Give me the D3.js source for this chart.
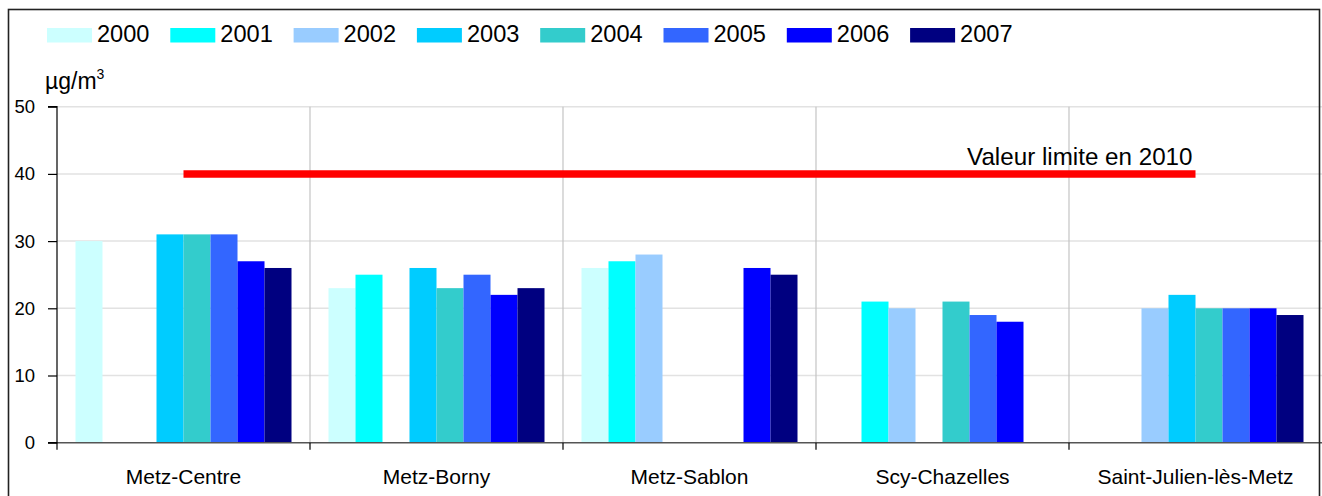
<!DOCTYPE html>
<html>
<head>
<meta charset="utf-8">
<script src="https://cdn.jsdelivr.net/npm/d3@7"></script>
<style>
  html, body { margin: 0; padding: 0; background: #fff; }
  svg { display: block; font-family: "Liberation Sans", Arial, sans-serif; }
</style>
</head>
<body>
<svg id="chart" width="1322" height="496"></svg>
<script>
// NO2 annual means per station (µg/m³), one array per year
const categories = ["Metz-Centre", "Metz-Borny", "Metz-Sablon", "Scy-Chazelles", "Saint-Julien-lès-Metz"];
const years = ["2000", "2001", "2002", "2003", "2004", "2005", "2006", "2007"];
const values2000 = [30, 23, 26, null, null];
const values2001 = [null, 25, 27, 21, null];
const values2002 = [null, null, 28, 20, 20];
const values2003 = [31, 26, null, null, 22];
const values2004 = [31, 23, null, 21, 20];
const values2005 = [31, 25, null, 19, 20];
const values2006 = [27, 22, 26, 18, 20];
const values2007 = [26, 23, 25, null, 19];
const limitValues = [40, 40, 40, 40, 40];
const yTicks = [0, 10, 20, 30, 40, 50];
const yearColors = ["#CCFFFF", "#00FFFF", "#99CCFF", "#00CCFF", "#33CCCC", "#3366FF", "#0000FF", "#000080"];

const series = [values2000, values2001, values2002, values2003, values2004, values2005, values2006, values2007];

const svg = d3.select("#chart");
const plot = { left: 57, right: 1322, top: 106.7, bottom: 442.7 };

const x0 = d3.scaleBand().domain(categories).range([plot.left, plot.right]).paddingInner(0).paddingOuter(0);
const x1 = d3.scaleBand().domain(years).range([0, x0.bandwidth()]).paddingInner(0).paddingOuter(0.685);
const y = d3.scaleLinear().domain([0, 50]).range([plot.bottom, plot.top]);
const color = d3.scaleOrdinal().domain(years).range(yearColors);

// background
svg.append("rect").attr("width", 1322).attr("height", 496).attr("fill", "#fff");

// horizontal gridlines
svg.append("g").selectAll("line").data(yTicks.filter(d => d > 0)).join("line")
  .attr("x1", plot.left).attr("x2", plot.right)
  .attr("y1", d => y(d)).attr("y2", d => y(d))
  .attr("stroke", "#e2e2e2").attr("stroke-width", 1.5);

// vertical category separators
svg.append("g").selectAll("line").data(categories.slice(1)).join("line")
  .attr("x1", d => x0(d)).attr("x2", d => x0(d))
  .attr("y1", plot.top).attr("y2", plot.bottom)
  .attr("stroke", "#c4c4c4").attr("stroke-width", 1.2);

// bars
const rows = [];
series.forEach((vals, si) => {
  vals.forEach((v, ci) => {
    if (v != null) rows.push({ year: years[si], cat: categories[ci], value: v });
  });
});
svg.append("g").selectAll("rect").data(rows).join("rect")
  .attr("x", d => x0(d.cat) + x1(d.year))
  .attr("width", x1.bandwidth())
  .attr("y", d => y(d.value))
  .attr("height", d => y(0) - y(d.value))
  .attr("fill", d => color(d.year));

// limit value line
const limitLine = d3.line()
  .x((d, i) => x0(categories[i]) + x0.bandwidth() / 2)
  .y(d => y(d));
svg.append("path").datum(limitValues)
  .attr("d", limitLine)
  .attr("fill", "none")
  .attr("stroke", "#FF0000")
  .attr("stroke-width", 7.5);

svg.append("text")
  .attr("x", x0(categories[categories.length - 1]) + x0.bandwidth() / 2 - 3)
  .attr("y", y(limitValues[limitValues.length - 1]) - 9)
  .attr("text-anchor", "end")
  .attr("font-size", 24.2)
  .attr("fill", "#000")
  .text("Valeur limite en 2010");

// x axis line and category boundary ticks
svg.append("line")
  .attr("x1", plot.left).attr("x2", plot.right)
  .attr("y1", y(0)).attr("y2", y(0))
  .attr("stroke", "#555").attr("stroke-width", 1.5);
svg.append("g").selectAll("line").data(categories).join("line")
  .attr("x1", d => x0(d)).attr("x2", d => x0(d))
  .attr("y1", y(0)).attr("y2", y(0) + 7)
  .attr("stroke", "#000").attr("stroke-width", 1.2);

// category labels
svg.append("g").selectAll("text").data(categories).join("text")
  .attr("x", d => x0(d) + x0.bandwidth() / 2)
  .attr("y", 484)
  .attr("text-anchor", "middle")
  .attr("font-size", 21)
  .attr("fill", "#000")
  .text(d => d);

// y axis
const yAxis = d3.axisLeft(y).tickValues(yTicks).tickSize(9).tickPadding(13).tickFormat(d3.format("d"));
const gy = svg.append("g").attr("transform", `translate(${plot.left},0)`).call(yAxis);
gy.select(".domain").attr("stroke", "#000").attr("stroke-width", 1.2).attr("d", `M-9,${plot.top}H0V${plot.bottom}H-9`);
gy.selectAll(".tick line").attr("stroke", "#000").attr("stroke-width", 1.2);
gy.selectAll(".tick text").attr("font-size", 18.5).attr("fill", "#000")
  .attr("font-family", "'Liberation Sans', Arial, sans-serif");

// unit label
const unit = svg.append("text").attr("x", 45).attr("y", 89).attr("font-size", 23).attr("fill", "#000");
unit.append("tspan").text("µg/m");
unit.append("tspan").attr("font-size", 14).attr("dy", -10).text("3");

// legend
const legend = svg.append("g").selectAll("g").data(years).join("g")
  .attr("transform", (d, i) => `translate(${47 + i * 123.3},0)`);
legend.append("rect").attr("x", 0).attr("y", 28).attr("width", 45).attr("height", 14.5)
  .attr("fill", d => color(d));
legend.append("text").attr("x", 50).attr("y", 42).attr("font-size", 23.6).attr("fill", "#000")
  .text(d => d);

// outer frame
svg.append("rect").attr("x", 8.5).attr("y", 9.5).attr("width", 1311).attr("height", 492)
  .attr("fill", "none").attr("stroke", "#222").attr("stroke-width", 1.6);
</script>
</body>
</html>
